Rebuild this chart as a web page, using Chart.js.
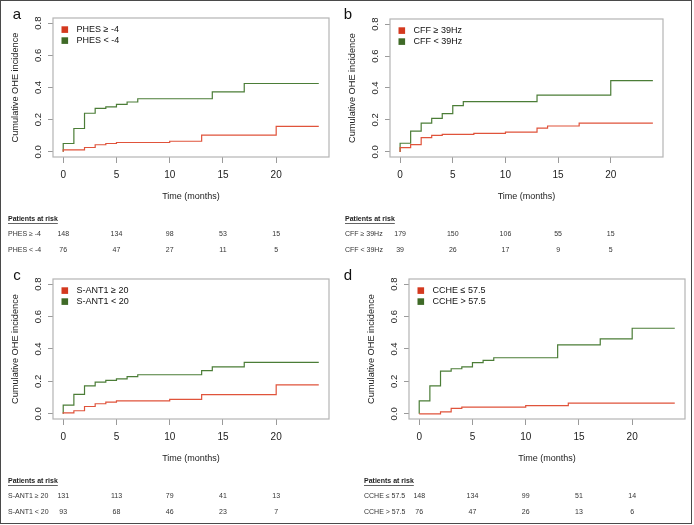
<!DOCTYPE html>
<html>
<head>
<meta charset="utf-8">
<script src="https://cdn.jsdelivr.net/npm/chart.js@4.4.1/dist/chart.umd.min.js"></script>
<style>
    html, body { margin: 0; padding: 0; background: #fff; }
    #wrap { position: relative; width: 694px; height: 525px; overflow: hidden; }
    #frame { position: absolute; left: 0; top: 0; width: 692px; height: 524px; border: 1.5px solid #4a4a4a; box-sizing: border-box; pointer-events: none; }
    canvas { position: absolute; }
</style>
</head>
<body>
<div id="wrap">
    <canvas id="pa"></canvas>
    <canvas id="pb"></canvas>
    <canvas id="pc"></canvas>
    <canvas id="pd"></canvas>
    <div id="frame"></div>
</div>
<script>
const FONT = "'Liberation Sans', Arial, Helvetica, sans-serif";
const RED = '#e0533b';
const GREEN = '#4b7d37';
const RED_KEY = '#d4391f';
const GREEN_KEY = '#3f6a27';

// axis ticks
const xTicks = [0, 5, 10, 15, 20];
const yTicks = [0, 0.2, 0.4, 0.6, 0.8];
const riskTimes = [0, 5, 10, 15, 20];

// a: PHES
const phesHighTimes = [0, 0, 2, 3, 4, 5, 10, 13, 20, 24];
const phesHighValues = [0, 0.012, 0.027, 0.044, 0.052, 0.058, 0.066, 0.104, 0.158, 0.158];
const phesLowTimes = [0, 0, 1, 2, 3, 4, 5, 6, 7, 14, 17, 24];
const phesLowValues = [0, 0.052, 0.145, 0.24, 0.27, 0.28, 0.295, 0.31, 0.33, 0.373, 0.425, 0.425];
const phesHighRisk = [148, 134, 98, 53, 15];
const phesLowRisk = [76, 47, 27, 11, 5];

// b: CFF
const cffHighTimes = [0, 0, 1, 2, 3, 4, 7, 10, 13, 14, 17, 24];
const cffHighValues = [0, 0.027, 0.046, 0.089, 0.104, 0.11, 0.116, 0.124, 0.149, 0.162, 0.18, 0.18];
const cffLowTimes = [0, 0, 1, 2, 3, 4, 5, 6, 13, 20, 24];
const cffLowValues = [0, 0.054, 0.13, 0.18, 0.21, 0.24, 0.29, 0.315, 0.356, 0.446, 0.446];
const cffHighRisk = [179, 150, 106, 55, 15];
const cffLowRisk = [39, 26, 17, 9, 5];

// c: S-ANT1
const santHighTimes = [0, 0, 1, 2, 3, 4, 5, 10, 13, 20, 24];
const santHighValues = [0, 0.006, 0.019, 0.045, 0.062, 0.072, 0.08, 0.089, 0.118, 0.179, 0.179];
const santLowTimes = [0, 0, 1, 2, 3, 4, 5, 6, 7, 13, 14, 17, 24];
const santLowValues = [0, 0.054, 0.12, 0.173, 0.196, 0.206, 0.216, 0.229, 0.241, 0.266, 0.29, 0.318, 0.318];
const santHighRisk = [131, 113, 79, 41, 13];
const santLowRisk = [93, 68, 46, 23, 7];

// d: CCHE
const ccheLowTimes = [0, 2, 3, 4, 10, 14, 24];
const ccheLowValues = [0, 0.012, 0.033, 0.041, 0.05, 0.066, 0.066];
const ccheHighTimes = [0, 0, 1, 2, 3, 4, 5, 6, 7, 13, 17, 20, 24];
const ccheHighValues = [0, 0.08, 0.173, 0.264, 0.278, 0.29, 0.316, 0.33, 0.346, 0.425, 0.462, 0.528, 0.528];
const ccheLowRisk = [148, 134, 99, 51, 14];
const ccheHighRisk = [76, 47, 26, 13, 6];

const panels = [
    { id: 'pa', letter: 'a', cv: { x: 0, y: 0, w: 340, h: 262 }, box: { l: 53, r: 329, t: 18, b: 157 }, letterAt: [17, 15],
      series: [
          { label: 'PHES \u2265 -4', times: phesHighTimes, values: phesHighValues, risk: phesHighRisk, color: RED, key: RED_KEY },
          { label: 'PHES < -4', times: phesLowTimes, values: phesLowValues, risk: phesLowRisk, color: GREEN, key: GREEN_KEY }
      ] },
    { id: 'pb', letter: 'b', cv: { x: 340, y: 0, w: 354, h: 262 }, box: { l: 390, r: 663, t: 19, b: 157 }, letterAt: [348, 15],
      series: [
          { label: 'CFF \u2265 39Hz', times: cffHighTimes, values: cffHighValues, risk: cffHighRisk, color: RED, key: RED_KEY },
          { label: 'CFF < 39Hz', times: cffLowTimes, values: cffLowValues, risk: cffLowRisk, color: GREEN, key: GREEN_KEY }
      ] },
    { id: 'pc', letter: 'c', cv: { x: 0, y: 262, w: 340, h: 263 }, box: { l: 53, r: 329, t: 279, b: 419 }, letterAt: [17, 276],
      series: [
          { label: 'S-ANT1 \u2265 20', times: santHighTimes, values: santHighValues, risk: santHighRisk, color: RED, key: RED_KEY },
          { label: 'S-ANT1 < 20', times: santLowTimes, values: santLowValues, risk: santLowRisk, color: GREEN, key: GREEN_KEY }
      ] },
    { id: 'pd', letter: 'd', cv: { x: 340, y: 262, w: 354, h: 263 }, box: { l: 409, r: 685, t: 279, b: 419 }, letterAt: [348, 276],
      series: [
          { label: 'CCHE \u2264 57.5', times: ccheLowTimes, values: ccheLowValues, risk: ccheLowRisk, color: RED, key: RED_KEY },
          { label: 'CCHE > 57.5', times: ccheHighTimes, values: ccheHighValues, risk: ccheHighRisk, color: GREEN, key: GREEN_KEY }
      ] }
];

const X_AXIS_H = 45.4;
const Y_AXIS_W = 5;

function decoPlugin(p) {
    return {
        id: 'deco',
        afterDraw(chart) {
            const ctx = chart.ctx;
            const area = chart.chartArea;
            const ox = p.cv.x, oy = p.cv.y;
            const ys = chart.scales.y, xs = chart.scales.x;
            ctx.save();

            // plot frame
            ctx.strokeStyle = '#b4b4b4';
            ctx.lineWidth = 1.2;
            ctx.strokeRect(area.left, area.top, area.right - area.left, area.bottom - area.top);

            ctx.fillStyle = '#222';
            // y tick labels (rotated like R)
            ctx.font = '9.5px ' + FONT;
            ctx.textAlign = 'center';
            ctx.textBaseline = 'middle';
            ys.ticks.forEach(t => {
                ctx.save();
                ctx.translate(area.left - 14.5, ys.getPixelForValue(t.value));
                ctx.rotate(-Math.PI / 2);
                ctx.fillText(t.value.toFixed(1), 0, 0);
                ctx.restore();
            });

            // y title
            ctx.font = '9.2px ' + FONT;
            ctx.save();
            ctx.translate(area.left - 38, (area.top + area.bottom) / 2);
            ctx.rotate(-Math.PI / 2);
            ctx.fillText('Cumulative OHE incidence', 0, 0);
            ctx.restore();

            // panel letter
            ctx.fillStyle = '#111';
            ctx.font = '15px ' + FONT;
            ctx.fillText(p.letter, p.letterAt[0] - ox, p.letterAt[1] - oy);

            // legend
            ctx.font = '9px ' + FONT;
            ctx.textAlign = 'left';
            p.series.forEach((s, i) => {
                const cy = area.top + 11.6 + 11 * i;
                ctx.fillStyle = s.key;
                ctx.fillRect(area.left + 8.5, cy - 3.3, 6.6, 6.6);
                ctx.fillStyle = '#111';
                ctx.fillText(s.label, area.left + 23.5, cy);
            });

            // patients at risk table
            const tx = area.left - 45;
            const hy = area.bottom + 62;
            ctx.fillStyle = '#222';
            ctx.font = 'bold 7px ' + FONT;
            ctx.fillText('Patients at risk', tx, hy);
            const hw = ctx.measureText('Patients at risk').width;
            ctx.fillRect(tx, hy + 4.2, hw, 0.7);
            ctx.font = '7px ' + FONT;
            p.series.forEach((s, i) => {
                const ry = area.bottom + 77 + 16.5 * i;
                ctx.textAlign = 'left';
                ctx.fillStyle = '#333';
                ctx.fillText(s.label, tx, ry);
                ctx.textAlign = 'center';
                s.risk.forEach((n, j) => {
                    ctx.fillText(String(n), xs.getPixelForValue(riskTimes[j]), ry);
                });
            });
            ctx.restore();
        }
    };
}

panels.forEach(p => {
    const cv = document.getElementById(p.id);
    cv.width = p.cv.w;
    cv.height = p.cv.h;
    cv.style.left = p.cv.x + 'px';
    cv.style.top = p.cv.y + 'px';

    const pad = {
        left: p.box.l - p.cv.x - Y_AXIS_W,
        right: p.cv.x + p.cv.w - p.box.r,
        top: p.box.t - p.cv.y,
        bottom: p.cv.y + p.cv.h - p.box.b - X_AXIS_H
    };

    new Chart(cv.getContext('2d'), {
        type: 'line',
        data: {
            datasets: p.series.map(s => ({
                label: s.label,
                data: s.times.map((t, i) => ({ x: t, y: s.values[i] })),
                borderColor: s.color,
                borderWidth: 1.2,
                stepped: 'before',
                pointRadius: 0,
                fill: false
            }))
        },
        options: {
            responsive: false,
            animation: false,
            layout: { padding: pad },
            plugins: { legend: { display: false }, tooltip: { enabled: false } },
            scales: {
                x: {
                    type: 'linear',
                    min: -0.96,
                    max: 24.96,
                    afterBuildTicks: s => { s.ticks = xTicks.map(v => ({ value: v })); },
                    afterFit: s => { s.height = X_AXIS_H; },
                    grid: { drawOnChartArea: false, drawTicks: true, tickLength: 6, color: '#9a9a9a' },
                    border: { display: false },
                    ticks: { font: { family: FONT, size: 10 }, color: '#222', padding: 6, maxRotation: 0, autoSkip: false },
                    title: { display: true, text: 'Time (months)', font: { family: FONT, size: 9 }, color: '#222', padding: 0 }
                },
                y: {
                    type: 'linear',
                    min: -0.032,
                    max: 0.832,
                    afterBuildTicks: s => { s.ticks = yTicks.map(v => ({ value: v })); },
                    afterFit: s => { s.width = Y_AXIS_W; },
                    grid: { drawOnChartArea: false, drawTicks: true, tickLength: 5, color: '#9a9a9a' },
                    border: { display: false },
                    ticks: { display: false }
                }
            }
        },
        plugins: [decoPlugin(p)]
    });
});
</script>
</body>
</html>
